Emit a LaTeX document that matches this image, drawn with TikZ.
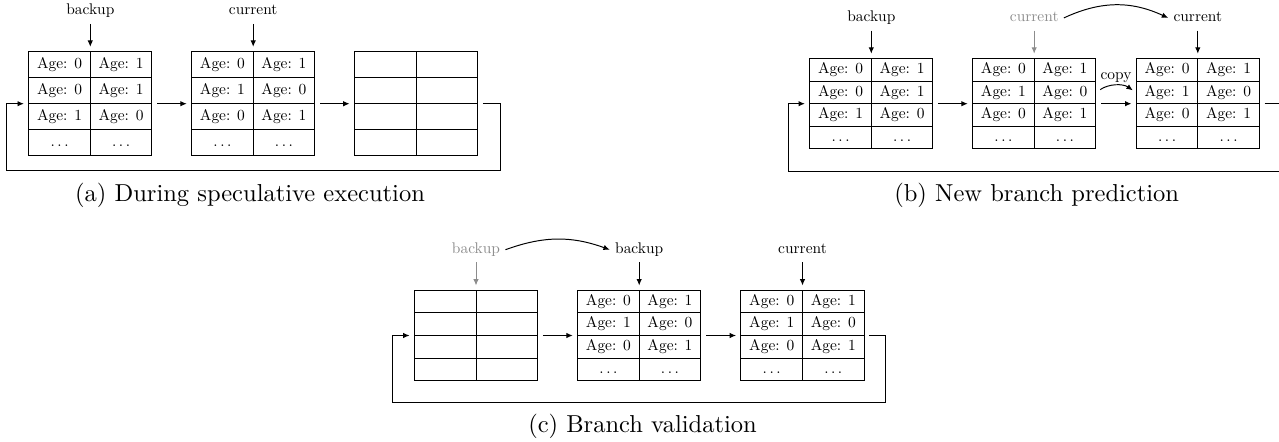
\documentclass[tikz,border=0pt]{standalone}
\usepackage{fontspec}
\setmainfont{lmroman10-regular.otf}
\usepackage{tikz}
\usetikzlibrary{matrix, arrows.meta, positioning}

\newcommand{\cellfont}{\fontsize{6.3}{7.5}\selectfont}
\newcommand{\celldots}{.\kern.1667em.\kern.1667em.}
\tikzset{
  agetable/.style={matrix of nodes, inner sep=0pt, column sep=-\pgflinewidth,
    row sep=-\pgflinewidth, nodes in empty cells,
    nodes={draw, minimum width=25.1pt, minimum height=#1, inner sep=0pt,
      text height=4.5pt, text depth=1.5pt, font=\cellfont}},
  ptrlabel/.style={font=\cellfont, inner sep=2pt, text height=4.5pt, text depth=1.5pt},
  oldtext/.style={text=black!45},
  move/.style={-{Latex[length=2.6pt, width=2.2pt]}},
  ptr/.style={move, shorten >=1.6pt},
  oldptr/.style={ptr, draw=black!45},
  flow/.style={move, shorten <=1.8pt, shorten >=1.6pt},
}

\begin{document}
\begin{tikzpicture}[x=0.408pt, y=-0.408pt]
  \useasboundingbox (0,0) rectangle (1279,441);

  % (a) during speculative execution
  \matrix (a1) [agetable=10.6pt] at (90.3,103.7) {
    Age: 0 & Age: 1 \\
    Age: 0 & Age: 1 \\
    Age: 1 & Age: 0 \\
    \celldots & \celldots \\
  };
  \matrix (a2) [agetable=10.6pt] at (253.2,103.7) {
    Age: 0 & Age: 1 \\
    Age: 1 & Age: 0 \\
    Age: 0 & Age: 1 \\
    \celldots & \celldots \\
  };
  \matrix (a3) [agetable=10.6pt] at (416,103.7) {
    & \\
    & \\
    & \\
    & \\
  };
  \node[ptrlabel, above=11pt of a1] (abak) {backup};
  \node[ptrlabel, above=11pt of a2] (acur) {current};
  \draw[ptr] (abak) -- (a1.north);
  \draw[ptr] (acur) -- (a2.north);
  \draw[flow] (a1) -- (a2);
  \draw[flow] (a2) -- (a3);
  \draw[flow] (a3.east) -| ([shift={(21.6,14.3)}]a3.south east)
    -| ([shift={(-21,0)}]a1.west) -- (a1.west);
  \node (capa) at (250,195) {(a) During speculative execution};

  % (b) new branch prediction
  \matrix (b1) [agetable=9.2pt] at (871.3,103.7) {
    Age: 0 & Age: 1 \\
    Age: 0 & Age: 1 \\
    Age: 1 & Age: 0 \\
    \celldots & \celldots \\
  };
  \matrix (b2) [agetable=9.2pt] at (1034.2,103.7) {
    Age: 0 & Age: 1 \\
    Age: 1 & Age: 0 \\
    Age: 0 & Age: 1 \\
    \celldots & \celldots \\
  };
  \matrix (b3) [agetable=9.2pt] at (1197.8,103.7) {
    Age: 0 & Age: 1 \\
    Age: 1 & Age: 0 \\
    Age: 0 & Age: 1 \\
    \celldots & \celldots \\
  };
  \node[ptrlabel, above=11pt of b1] (bbak) {backup};
  \node[ptrlabel, oldtext, above=11pt of b2] (bcurold) {current};
  \node[ptrlabel, above=11pt of b3] (bcur) {current};
  \draw[ptr] (bbak) -- (b1.north);
  \draw[oldptr] (bcurold) -- (b2.north);
  \draw[ptr] (bcur) -- (b3.north);
  \draw[move] (bcurold.east) to[bend left=25] (bcur.west);
  \draw[flow] (b1) -- (b2);
  \draw[flow] (b2) -- (b3);
  \draw[move, shorten <=2pt, shorten >=1.5pt] (b2-2-2.east) to[bend left=35]
    node[ptrlabel, above, inner sep=1pt] (copy) {copy} (b3-2-1.west);
  \draw[flow] (b3.east) -| ([shift={(19.3,21.3)}]b3.south east)
    -| ([shift={(-20,0)}]b1.west) -- (b1.west);
  \node (capb) at (1036.7,195) {(b) New branch prediction};

  % (c) branch validation
  \matrix (c1) [agetable=9.2pt] at (476,335.5) {
    & \\
    & \\
    & \\
    & \\
  };
  \matrix (c2) [agetable=9.2pt] at (639.2,335.5) {
    Age: 0 & Age: 1 \\
    Age: 1 & Age: 0 \\
    Age: 0 & Age: 1 \\
    \celldots & \celldots \\
  };
  \matrix (c3) [agetable=9.2pt] at (802.5,335.5) {
    Age: 0 & Age: 1 \\
    Age: 1 & Age: 0 \\
    Age: 0 & Age: 1 \\
    \celldots & \celldots \\
  };
  \node[ptrlabel, oldtext, above=11pt of c1] (cbakold) {backup};
  \node[ptrlabel, above=11pt of c2] (cbak) {backup};
  \node[ptrlabel, above=11pt of c3] (ccur) {current};
  \draw[oldptr] (cbakold) -- (c1.north);
  \draw[ptr] (cbak) -- (c2.north);
  \draw[ptr] (ccur) -- (c3.north);
  \draw[move] (cbakold.east) to[bend left=20] (cbak.west);
  \draw[flow] (c1) -- (c2);
  \draw[flow] (c2) -- (c3);
  \draw[flow] (c3.east) -| ([shift={(20,20.7)}]c3.south east)
    -| ([shift={(-21,0)}]c1.west) -- (c1.west);
  \node (capc) at (642.5,426.7) {(c) Branch validation};
\end{tikzpicture}
\end{document}
